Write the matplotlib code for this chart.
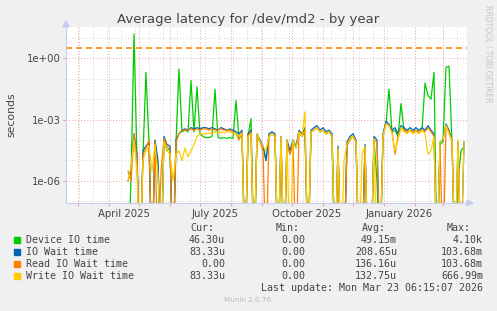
import numpy as np
import pandas as pd
import matplotlib
matplotlib.use('Agg')
import matplotlib.pyplot as plt
from matplotlib.patches import Rectangle, Polygon

# samples every 3 days, 2025-04-20 .. 2026-03-22
dates = pd.date_range('2025-04-20', periods=113, freq='3D')

device_io = [
    0, 1e-6, 15, 1e-5, 0, 2e-5, 0.2, 6e-5, 0, 8e-5,
    5e-6, 0, 1e-4, 3e-5, 4e-5, 0, 8e-5, 0.29, 2.5e-4, 3e-4,
    2.5e-4, 0.08, 2.5e-4, 0.04, 2e-4, 1.5e-4, 1.3e-4, 1.3e-4, 1.5e-4, 0.03,
    1.3e-4, 1.2e-4, 1.3e-4, 1.2e-4, 1.3e-4, 1.2e-4, 0.0085, 1.2e-4, 2e-4, 0,
    1.5e-4, 1.1e-3, 0, 1.5e-4, 8e-5, 5e-5, 1e-5, 1.5e-4, 2e-4, 1.5e-4,
    0, 1e-4, 0, 8e-5, 2e-5, 8e-5, 4e-5, 2.5e-4, 1.5e-4, 3e-4,
    0, 2.5e-4, 3e-4, 4e-4, 2.5e-4, 3e-4, 2e-4, 2.5e-4, 1.5e-4, 0,
    4e-5, 0, 0, 6e-5, 1.2e-4, 1.5e-4, 8e-5, 0, 0, 5e-5,
    0, 0, 1e-4, 1e-6, 0, 1.5e-4, 7e-4, 0.03, 2.5e-4, 3e-4,
    1.5e-4, 6e-3, 3e-4, 2.5e-4, 3e-4, 2.5e-4, 3e-4, 2.5e-4, 3e-4, 0.06,
    0.015, 0.01, 0.2, 0, 6e-5, 8e-5, 0.36, 0.4, 8e-5, 0,
    1e-6, 3e-5, 4.63e-5,
]
io_wait = [
    1e-6, 3e-6, 2e-4, 2e-5, 0, 3e-5, 5e-5, 8e-5, 0, 1e-4,
    1e-5, 0, 1.5e-4, 6e-5, 5e-5, 0, 1e-4, 2e-4, 3e-4, 3.5e-4,
    3e-4, 4e-4, 3.5e-4, 4e-4, 3.5e-4, 4e-4, 4e-4, 3.5e-4, 4e-4, 3.5e-4,
    3e-4, 4e-4, 3.5e-4, 3e-4, 3.5e-4, 3e-4, 2.5e-4, 2e-4, 3e-4, 0,
    2e-4, 3e-4, 0, 2e-4, 1e-4, 5e-5, 1e-5, 2e-4, 2.5e-4, 2e-4,
    0, 1.5e-4, 0, 1e-4, 3e-5, 1e-4, 5e-5, 3e-4, 2e-4, 4e-4,
    0, 3e-4, 4e-4, 5e-4, 3e-4, 4e-4, 2.5e-4, 3e-4, 2e-4, 0,
    5e-5, 0, 0, 8e-5, 1.5e-4, 2e-4, 1e-4, 0, 0, 6e-5,
    0, 0, 1.5e-4, 1e-4, 0, 2e-4, 8e-4, 6e-4, 3e-4, 4e-4,
    2e-4, 5e-4, 4e-4, 3e-4, 4e-4, 3e-4, 4e-4, 3e-4, 4e-4, 3e-4,
    5e-4, 3e-4, 2e-4, 0, 8e-5, 1e-4, 6e-4, 3e-4, 1e-4, 0,
    8e-5, 0, 8.333e-5,
]
read_wait = [
    3e-6, 1e-6, 2e-4, 1e-5, 0, 2e-5, 4e-5, 1e-4, 0, 8e-5,
    0, 3e-6, 1.2e-4, 5e-5, 3e-5, 0, 8e-5, 2e-4, 3e-4, 3e-4,
    3e-4, 3.5e-4, 3e-4, 3.5e-4, 3e-4, 3.5e-4, 3.5e-4, 3e-4, 3.5e-4, 3e-4,
    3e-4, 3.5e-4, 3e-4, 3e-4, 3e-4, 2.5e-4, 2e-4, 1e-4, 2.5e-4, 0,
    1.5e-4, 2.5e-4, 0, 1.5e-4, 8e-5, 3e-5, 0, 1.5e-4, 2e-4, 1.5e-4,
    0, 1e-4, 0, 8e-5, 2e-5, 8e-5, 0, 2.5e-4, 1.5e-4, 3e-4,
    0, 2.5e-4, 3e-4, 4e-4, 2.5e-4, 3e-4, 2e-4, 2.5e-4, 1.5e-4, 0,
    3e-5, 0, 0, 5e-5, 1e-4, 1.5e-4, 8e-5, 0, 0, 4e-5,
    0, 0, 1e-4, 8e-5, 0, 1.5e-4, 6e-4, 5e-4, 2.5e-4, 2e-5,
    1.5e-4, 4e-4, 3e-4, 2.5e-4, 3e-4, 2.5e-4, 3e-4, 2.5e-4, 3e-4, 2.5e-4,
    4e-4, 2.5e-4, 1.5e-4, 0, 5e-5, 0, 5e-4, 2.5e-4, 8e-5, 0,
    5e-5, 0, 0,
]
write_wait = [
    1e-6, 5e-6, 1e-4, 3e-6, 0, 1e-5, 3e-5, 5e-5, 3e-6, 6e-5,
    2e-6, 0, 8e-5, 3e-5, 2e-5, 1e-6, 2e-5, 3e-5, 1e-5, 4e-5,
    1.5e-5, 3e-5, 6e-5, 1.5e-4, 2e-4, 2e-4, 2e-4, 2.2e-4, 2e-4, 2.5e-4,
    2.2e-4, 2.5e-4, 2.2e-4, 2.5e-4, 2.5e-4, 2.2e-4, 2e-4, 1.5e-4, 2e-4, 0,
    1.5e-4, 2e-4, 0, 2e-4, 8e-5, 5e-5, 3e-5, 1.5e-4, 2e-4, 1.5e-4,
    0, 1.5e-4, 0, 1e-4, 0, 1e-4, 4e-5, 2.5e-4, 1.5e-4, 2.4e-3,
    0, 2.5e-4, 3e-4, 4e-4, 2.5e-4, 3e-4, 2e-4, 2.5e-4, 1.5e-4, 0,
    4e-5, 0, 1e-5, 6e-5, 1.2e-4, 1.5e-4, 8e-5, 0, 2e-5, 5e-5,
    0, 0, 1.2e-4, 0, 0, 1.5e-4, 6e-4, 5e-4, 2e-4, 3e-5,
    1e-4, 4e-4, 2.5e-4, 2e-4, 3e-4, 2e-4, 2.5e-4, 2e-4, 3e-4, 2e-4,
    2e-5, 3e-5, 1.5e-4, 0, 8e-5, 1e-4, 5e-4, 2e-4, 1e-4, 0,
    1e-4, 0, 8.333e-5,
]

labels = ['Device IO time', 'IO Wait time', 'Read IO Wait time', 'Write IO Wait time']
colors = ['#00CC00', '#0066B3', '#FF8000', '#FFCC00']
cur = ['46.30u', '83.33u', '0.00', '83.33u']
mins = ['0.00', '0.00', '0.00', '0.00']
avgs = ['49.15m', '208.65u', '136.16u', '132.75u']
maxs = ['4.10k', '103.68m', '103.68m', '666.99m']
warning = 3.0

W, H = 497, 311
L, R, T, B = 66, 467, 27, 203


def fx(px):
    return px / W


def fy(py):
    return 1 - py / H


fig = plt.figure(figsize=(W / 100, H / 100), dpi=100, facecolor='#F0F0F0')
ax = fig.add_axes([fx(L), fy(B), (R - L) / W, (B - T) / H])
ax.set_facecolor('white')
ax.set_yscale('log')
ymin = 10 ** -7.08
ax.set_ylim(ymin, 10 ** 1.52)
start = pd.Timestamp('2025-02-17')
end = pd.Timestamp('2026-03-25')
ax.set_xlim(start, end)

# grid
grey = '#D2D2D2'
red = '#EBA5A5'
dot = (0, (1, 2))
for d in pd.date_range('2025-03-02', end, freq='14D'):
    ax.axvline(d, color=grey, lw=0.7, ls=dot, zorder=0)
for e in range(-7, 2):
    if e % 3 != 0:
        ax.axhline(10.0 ** e, color=grey, lw=0.7, ls=dot, zorder=0)
months = pd.date_range('2025-03-01', end, freq='MS')
for d in months:
    ax.axvline(d, color=red, lw=0.7, ls=dot, zorder=0.5)
for e in (0, -3, -6):
    ax.axhline(10.0 ** e, color=red, lw=0.7, ls=dot, zorder=0.5)

# zero readings drop below the bottom of the log axis, as rrdtool draws them
for vals, c in zip([device_io, io_wait, read_wait, write_wait], colors):
    v = np.asarray(vals, dtype=float)
    v = np.where(v > 0, v, ymin * 1e-3)
    ax.plot(dates, v, color=c, lw=0.9, zorder=2)

ax.axhline(warning, color='#FF8800', lw=1.2, ls=(0, (3.6, 2.4)), zorder=3)

# axes / ticks
for s in ['top', 'right']:
    ax.spines[s].set_visible(False)
for s in ['left', 'bottom']:
    ax.spines[s].set_color('#C8CCF2')
    ax.spines[s].set_linewidth(0.8)
    ax.spines[s].set_zorder(4)

ax.set_xticks(months)
ax.set_xticklabels([''] * len(months))
lab_pos = [pd.Timestamp(s) for s in ['2025-04-16', '2025-07-16', '2025-10-16', '2026-01-16']]
ax.set_xticks(lab_pos, minor=True)
ax.set_xticklabels(['April 2025', 'July 2025', 'October 2025', 'January 2026'], minor=True)
ax.tick_params(axis='x', which='major', length=2, color=red, direction='out')
ax.tick_params(axis='x', which='minor', length=0, pad=4, labelsize=7.3, labelcolor='#444444')

ax.set_yticks([1, 1e-3, 1e-6])
ax.set_yticklabels(['1e+00', '1e-03', '1e-06'])
ax.set_yticks([], minor=True)
ax.tick_params(axis='y', which='major', length=2, color=red, pad=2, labelsize=7.3,
               labelcolor='#444444')

fig.add_artist(Polygon([(fx(L - 3), fy(T)), (fx(L + 3), fy(T)), (fx(L), fy(T - 6))],
                       closed=True, color='#C8CCF2', transform=fig.transFigure))
fig.add_artist(Polygon([(fx(R), fy(B - 3)), (fx(R), fy(B + 3)), (fx(R + 6), fy(B))],
                       closed=True, color='#C8CCF2', transform=fig.transFigure))
ax.plot([1, 1.0 + 4 / (R - L)], [0, 0], transform=ax.transAxes, color='#C8CCF2',
        lw=0.8, clip_on=False)

# texts
fig.text(fx(248), fy(19), 'Average latency for /dev/md2 - by year', ha='center', va='center',
         fontsize=9.5, color='#444444')
fig.text(fx(11), fy(115), 'seconds', rotation=90, ha='center', va='center',
         fontsize=7.8, color='#444444')
fig.text(fx(488), fy(5), 'RRDTOOL / TOBI OETIKER', rotation=270, ha='center', va='top',
         fontsize=5.5, color='#C4C4C4')

mono = dict(family='DejaVu Sans Mono', fontsize=7.2, color='#444444', va='center')
row0 = 228
fig.text(fx(190), fy(row0), 'Cur:', ha='left', **mono)
fig.text(fx(276), fy(row0), 'Min:', ha='left', **mono)
fig.text(fx(362), fy(row0), 'Avg:', ha='left', **mono)
fig.text(fx(447), fy(row0), 'Max:', ha='left', **mono)
for i in range(4):
    yy = row0 + 12 * (i + 1)
    fig.add_artist(Rectangle((fx(14), fy(yy + 3)), 6 / W, 6 / H, color=colors[i],
                             transform=fig.transFigure))
    fig.text(fx(26), fy(yy), labels[i], ha='left', **mono)
    fig.text(fx(225), fy(yy), cur[i], ha='right', **mono)
    fig.text(fx(305), fy(yy), mins[i], ha='right', **mono)
    fig.text(fx(397), fy(yy), avgs[i], ha='right', **mono)
    fig.text(fx(483), fy(yy), maxs[i], ha='right', **mono)
fig.text(fx(483), fy(288), 'Last update: Mon Mar 23 06:15:07 2026', ha='right', **mono)
fig.text(fx(248), fy(300), 'Munin 2.0.76', ha='center', va='center', fontsize=5.2,
         color='#BBBBBB')

fig.savefig('out.png', dpi=100, facecolor=fig.get_facecolor())
